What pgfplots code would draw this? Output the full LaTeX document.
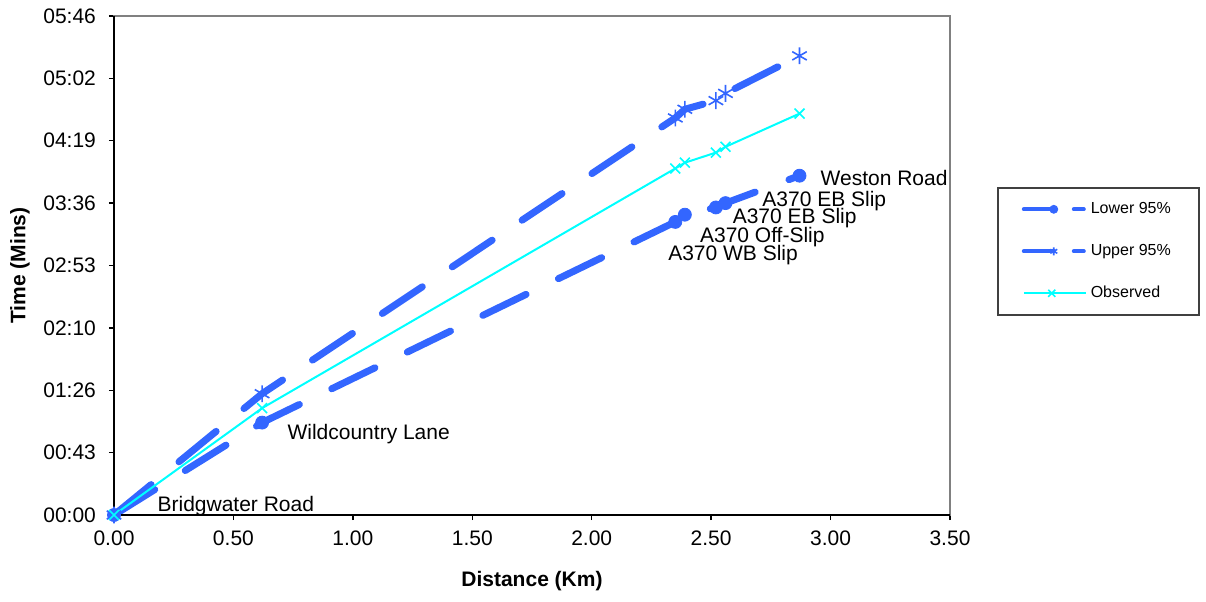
\documentclass[border=0pt]{standalone}
\usepackage{fontspec}
\setmainfont{Liberation Sans}
\usepackage{pgfplots}
\pgfplotsset{compat=1.18}

\definecolor{xlblue}{RGB}{51,102,255}
\definecolor{xlcyan}{RGB}{0,255,255}

% legend samples like Excel's: a solid piece with the marker, then a short dash
\pgfplotsset{
  dashleg/.style={legend image code/.code={
      \draw[##1, solid, line width=2pt, mark size=2pt, mark repeat=2, mark phase=2]
          plot coordinates {(0pt,0pt) (15pt,0pt)};
      \draw[##1, solid, line width=2pt] (25pt,0pt) -- (30pt,0pt);
  }},
  lineleg/.style={legend image code/.code={
      \draw[##1, mark size=2.5pt, mark repeat=2, mark phase=2]
          plot coordinates {(0pt,0pt) (14pt,0pt) (31pt,0pt)};
  }},
}

\begin{document}
\begin{tikzpicture}
\begin{axis}[
    scale only axis,
    width=418pt, height=249.5pt,
    xmin=0, xmax=3.5, ymin=0, ymax=345.6,
    clip=false,
    xtick={0,0.5,1,1.5,2,2.5,3,3.5},
    ytick={0,43.2,86.4,129.6,172.8,216,259.2,302.4,345.6},
    yticklabels={00:00,00:43,01:26,02:10,02:53,03:36,04:19,05:02,05:46},
    xticklabel style={yshift=-2pt, /pgf/number format/fixed, /pgf/number format/fixed zerofill,
        /pgf/number format/precision=2, /pgf/number format/assume math mode=true},
    tick label style={font=\fontsize{10.5}{12}\selectfont},
    yticklabel style={xshift=-3pt},
    tick align=outside, major tick length=2.5pt,
    xtick pos=bottom, ytick pos=left,
    tick style={black, line width=0.7pt},
    axis line style={draw=gray, line width=1pt},
    xlabel={Distance (Km)}, ylabel={Time (Mins)},
    every axis x label/.style={at={(axis description cs:0.5,-0.1323)}, anchor=center,
        font=\fontsize{10.5}{12}\selectfont\bfseries},
    every axis y label/.style={at={(axis description cs:-0.1124,0.5)}, anchor=center, rotate=90,
        font=\fontsize{10.5}{12}\selectfont\bfseries},
    legend style={at={(axis description cs:1,1)}, anchor=north west,
        xshift=23.5pt, yshift=-85.5pt,
        draw=black!75, line width=0.8pt,
        font=\fontsize{8}{9}\selectfont,
        inner xsep=12pt, inner ysep=5pt, row sep=9.5pt,
        nodes={inner sep=2pt, text height=6pt, text depth=1.5pt}},
    legend cell align=left,
]
\addplot[xlblue, line width=3.5pt, line cap=round, dash pattern=on 24pt off 18pt,
    mark=*, mark size=3.25pt, mark options={solid, line width=0.4pt}, dashleg]
coordinates {(0,0) (0.62,64) (2.35,203) (2.39,208) (2.52,213) (2.56,216) (2.87,235)};
\addlegendentry{Lower 95\%}

\addplot[xlblue, line width=3.5pt, line cap=round, dash pattern=on 24pt off 18pt,
    mark=asterisk, mark size=4.2pt, mark options={solid, line width=0.8pt, line cap=butt}, dashleg]
coordinates {(0,0) (0.62,84) (2.35,275) (2.39,281) (2.52,287) (2.56,292) (2.87,318)};
\addlegendentry{Upper 95\%}

\addplot[xlcyan, line width=1pt, mark=x, mark size=3.5pt, mark options={solid, line width=0.8pt}, lineleg]
coordinates {(0,0) (0.62,74) (2.35,240) (2.39,244) (2.52,251) (2.56,255) (2.87,278)};
\addlegendentry{Observed}

\draw[black, line width=0.8pt] (rel axis cs:0,1) -- (rel axis cs:0,0) -- (rel axis cs:1,0);

\begin{scope}[every node/.style={inner sep=0pt, anchor=base west, font=\fontsize{10.5}{12}\selectfont}]
\node at (axis cs:0.181,2.3) {Bridgwater Road};
\node at (axis cs:0.725,52.6) {Wildcountry Lane};
\node at (axis cs:2.957,228) {Weston Road};
\node at (axis cs:2.713,214) {A370 EB Slip};
\node at (axis cs:2.589,202) {A370 EB Slip};
\node at (axis cs:2.452,188.8) {A370 Off-Slip};
\node at (axis cs:2.319,176.6) {A370 WB Slip};
\end{scope}
\end{axis}
\pgfresetboundingbox
\path (current axis.south west) ++(-57pt,-43pt) rectangle ++(603pt,300.5pt);
\end{tikzpicture}
\end{document}
